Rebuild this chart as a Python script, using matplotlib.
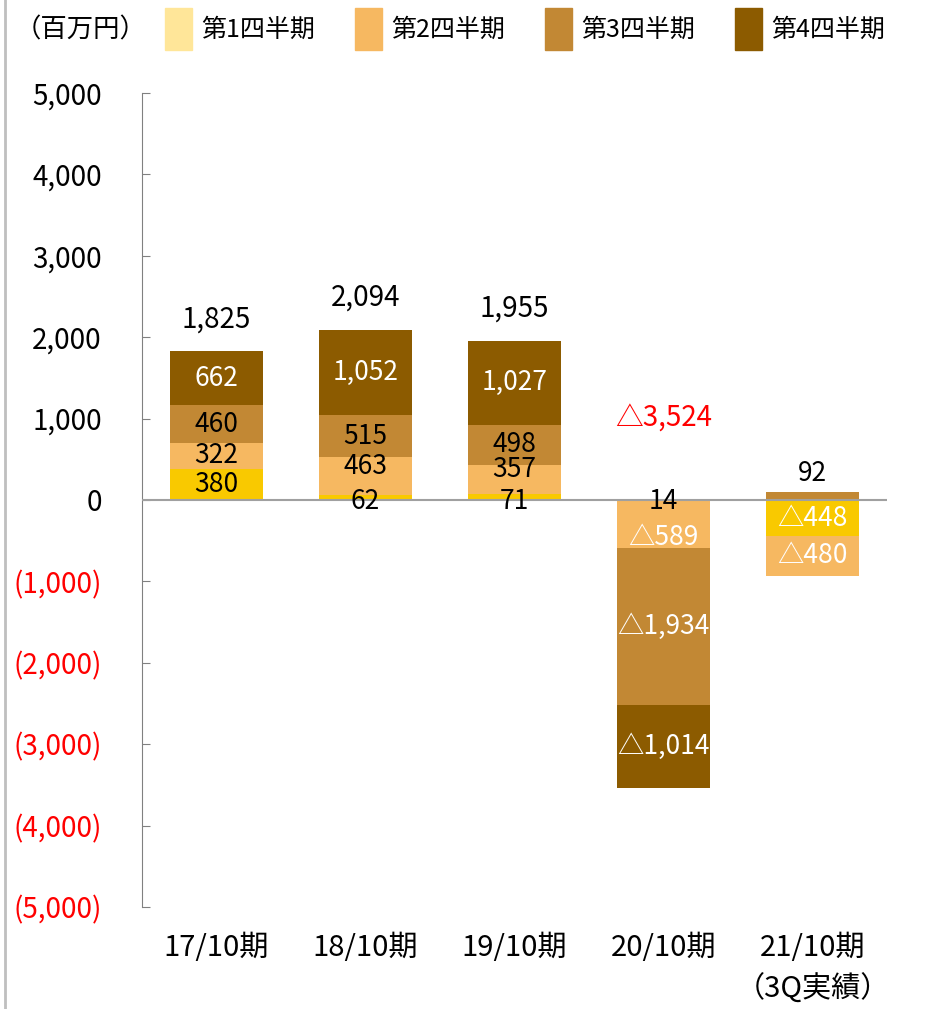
import matplotlib
matplotlib.use('Agg')
import matplotlib.pyplot as plt
from matplotlib.patches import Rectangle
from matplotlib.lines import Line2D
import numpy as np

plt.rcParams['font.family'] = ['Noto Sans CJK JP', 'DejaVu Sans']

# データ（百万円）
categories = ['17/10期', '18/10期', '19/10期', '20/10期', '21/10期\n（3Q実績）']
quarters = ['第1四半期', '第2四半期', '第3四半期', '第4四半期']
q1 = [380, 62, 71, 14, -448]
q2 = [322, 463, 357, -589, -480]
q3 = [460, 515, 498, -1934, 92]
q4 = [662, 1052, 1027, -1014, 0]
totals = [1825, 2094, 1955, -3524, None]

bar_colors = ['#F9C900', '#F6B861', '#C28834', '#8C5B00']
legend_colors = ['#FFE699', '#F6B861', '#C28834', '#8C5B00']

FS_BAR = 19
FS_BIG = 20


def fmt(v):
    if v < 0:
        return '△{:,}'.format(-v)
    return '{:,}'.format(v)


fig = plt.figure(figsize=(9.29, 10.09), dpi=100)
ax = fig.add_axes([142 / 929, 0.101, 745 / 929, 0.807])

x = np.arange(len(categories))
series = [q1, q2, q3, q4]
pos_base = np.zeros(len(x))
neg_base = np.zeros(len(x))
width = 0.63
small_q1 = [abs(v) < 150 for v in q1]

for qi, vals in enumerate(series):
    vals = np.array(vals, dtype=float)
    bottoms = np.where(vals >= 0, pos_base, neg_base)
    ax.bar(x, vals, width, bottom=bottoms, color=bar_colors[qi], zorder=2)
    for i, v in enumerate(vals):
        if v == 0:
            continue
        if abs(v) < 150:
            # 小さい値はゼロ線付近 or 棒の上に表示
            if qi == 0:
                ax.annotate(fmt(int(v)), (x[i], 0), xytext=(0, -1),
                            textcoords='offset points', ha='center', va='center',
                            fontsize=FS_BAR, color='black', zorder=4)
            else:
                ax.annotate(fmt(int(v)), (x[i], bottoms[i] + v), xytext=(0, 14),
                            textcoords='offset points', ha='center', va='center',
                            fontsize=FS_BAR, color='black', zorder=4)
            continue
        col = 'white' if (qi == 3 or v < 0) else 'black'
        dy = 0
        if qi == 1 and small_q1[i]:
            # ゼロ線上のラベルを避ける
            dy = 7 if v > 0 else -10
        ax.annotate(fmt(int(v)), (x[i], bottoms[i] + v / 2), xytext=(0, dy),
                    textcoords='offset points', ha='center', va='center',
                    fontsize=FS_BAR, color=col, zorder=4)
    pos_base = pos_base + np.where(vals > 0, vals, 0)
    neg_base = neg_base + np.where(vals < 0, vals, 0)

# 合計
for i, t in enumerate(totals):
    if t is None:
        continue
    if t > 0:
        ax.annotate(fmt(t), (x[i], pos_base[i]), xytext=(0, 23),
                    textcoords='offset points', ha='center', va='center',
                    fontsize=FS_BIG, color='black')
    else:
        ax.text(x[i], 1000, fmt(t), ha='center', va='center',
                fontsize=FS_BIG, color='#FF0000')

ax.axhline(0, color='#A0A0A0', linewidth=1.5, zorder=3)

ax.set_xlim(-0.5, 4.5)
ax.set_ylim(-5000, 5000)
ax.set_xticks(x)
ax.set_xticklabels(categories, fontsize=21, linespacing=1.5)
ax.tick_params(axis='x', length=0, pad=19)
yt = np.arange(-5000, 5001, 1000)
ax.set_yticks(yt)
ylabels = ['({:,})'.format(-v) if v < 0 else '{:,}'.format(v) for v in yt]
ax.set_yticklabels(ylabels, fontsize=FS_BIG)
for lab, v in zip(ax.get_yticklabels(), yt):
    if v < 0:
        lab.set_color('#FF0000')
ax.tick_params(axis='y', direction='in', length=6, color='#808080', pad=29)
for s in ['top', 'right', 'bottom']:
    ax.spines[s].set_visible(False)
ax.spines['left'].set_color('#808080')

# 凡例
fig.text(15 / 929, 1 - 30 / 1009, '（百万円）', fontsize=19, va='center', ha='left')
for k, name in enumerate(quarters):
    x0 = (165 + 190 * k) / 929
    fig.add_artist(Rectangle((x0, 1 - 50 / 1009), 27 / 929, 42 / 1009,
                             transform=fig.transFigure, color=legend_colors[k]))
    fig.text(x0 + 36 / 929, 1 - 30 / 1009, name, fontsize=18, va='center', ha='left')

fig.add_artist(Line2D([5 / 929, 5 / 929], [0, 1], transform=fig.transFigure,
                      color='#BFBFBF', linewidth=2))

fig.savefig('out.png', dpi=100)
